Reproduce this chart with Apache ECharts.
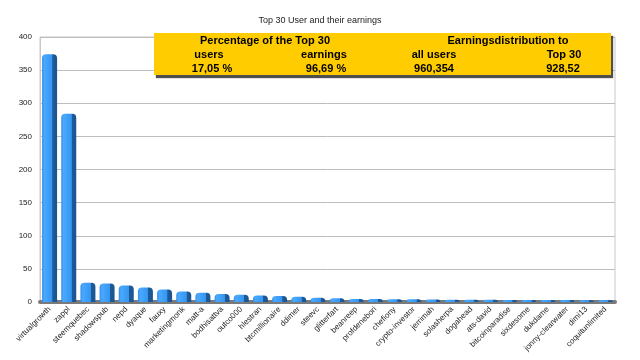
<!DOCTYPE html>
<html>
<head>
<meta charset="utf-8">
<script src="https://cdn.jsdelivr.net/npm/echarts@6/dist/echarts.min.js"></script>
<style>html,body{margin:0;padding:0;background:#fff}#c{width:640px;height:360px}</style>
</head>
<body>
<div id="c"></div>
<script>
var categories = ["virtualgrowth","zappl","steemquebec","shadowspub","nepd","dyaque","fauxy","marketingmonk","matt-a","bodhisattva","outco000","hlestran","btcmillionaire","ddimer","steevc","glitterfart","beanreep","profdenebori","chefiony","crypto-investor","jerrimah","solasherpa","dogahead","ats-david","bitcoinparadise","sixdesome","dukdame","jonny-clearwater","dimi13","coquitunlimited"];
var earnings = [374,284,29,28,25,22,19,16,14,12,11,10,9,8,6.5,5.5,4.5,4.5,4.2,4,3.6,3.5,3.4,3.3,3.2,3.1,3,2.9,2.8,2.7];
var yTicks = [0,50,100,150,200,250,300,350,400];
var boxHeaders = ["Percentage of the Top 30","Earningsdistribution to"];
var boxColumns = ["users","earnings","all users","Top 30"];
var boxValues = ["17,05 %","96,69 %","960,354","928,52"];

var chart = echarts.init(document.getElementById('c'), null, {renderer:'canvas'});
var textStyleBold = {fontFamily:'Liberation Sans, Arial, sans-serif', fontWeight:'bold', fontSize:11, fill:'#000'};
var headerX = [265, 508];
var colX = [209, 324, 434, 564];
var valX = [212, 326, 434, 563];
var graphics = [{
  type:'rect', shape:{x:154, y:33, width:457, height:42},
  style:{fill:'#ffcc00', shadowColor:'rgba(60,60,60,0.9)', shadowBlur:1, shadowOffsetX:2, shadowOffsetY:3},
  z:100
}];
boxHeaders.forEach(function(t,i){
  graphics.push({type:'text', x:headerX[i], y:41, z:101, style:Object.assign({text:t, textAlign:'center', textVerticalAlign:'middle'}, textStyleBold)});
});
boxColumns.forEach(function(t,i){
  graphics.push({type:'text', x:colX[i], y:55, z:101, style:Object.assign({text:t, textAlign:'center', textVerticalAlign:'middle'}, textStyleBold)});
});
boxValues.forEach(function(t,i){
  graphics.push({type:'text', x:valX[i], y:69, z:101, style:Object.assign({text:t, textAlign:'center', textVerticalAlign:'middle'}, textStyleBold)});
});

chart.setOption({
  animation:false,
  backgroundColor:'#fff',
  title:{text:'Top 30 User and their earnings', left:'center', top:11,
    textStyle:{fontFamily:'Liberation Sans, Arial, sans-serif', fontSize:9, fontWeight:'normal', color:'#222'}},
  grid:{left:40, right:25, top:37, bottom:58, show:true, borderColor:'#c8c8c8', borderWidth:1},
  xAxis:{type:'category', data:categories,
    axisLine:{lineStyle:{color:'#7a7a7a', width:4}},
    axisTick:{show:false},
    axisLabel:{rotate:45, interval:0, fontSize:8, color:'#222', margin:6, fontFamily:'Liberation Sans, Arial, sans-serif'}},
  yAxis:{type:'value', min:yTicks[0], max:yTicks[yTicks.length-1], interval:50,
    axisLine:{show:true, lineStyle:{color:'#c8c8c8'}},
    axisTick:{show:false},
    axisLabel:{fontSize:8, color:'#222', margin:8, fontFamily:'Liberation Sans, Arial, sans-serif'},
    splitLine:{lineStyle:{color:'#bdbdbd', width:1}}},
  series:[{type:'bar', data:earnings, barWidth:15,
    itemStyle:{
      borderRadius:[4,4,0,0],
      color:new echarts.graphic.LinearGradient(0,0,1,0,[
        {offset:0, color:'#2f8fe8'},
        {offset:0.15, color:'#4aa8ff'},
        {offset:0.68, color:'#3596f0'},
        {offset:0.70, color:'#1d5a9a'},
        {offset:1, color:'#1b5592'}
      ])
    }
  }],
  graphic:graphics
});
</script>
</body>
</html>
